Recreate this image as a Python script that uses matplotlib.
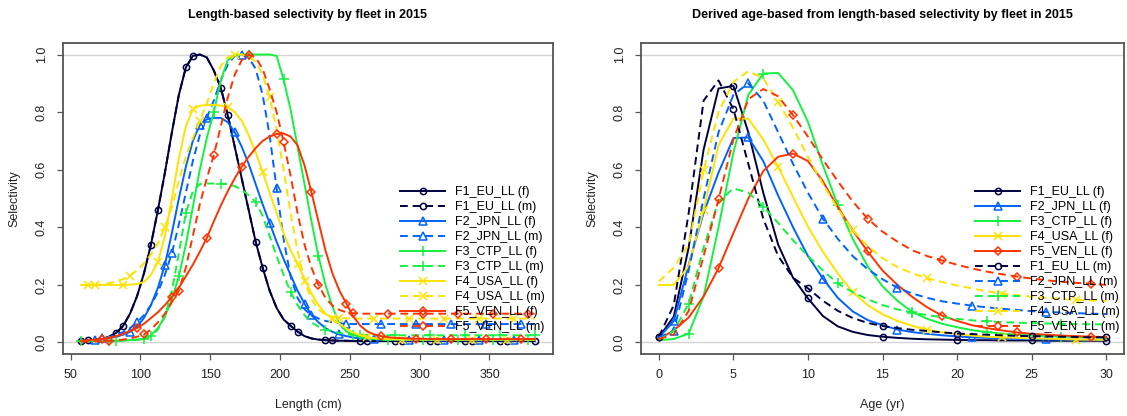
import numpy as np
import matplotlib
matplotlib.use("Agg")
import matplotlib.pyplot as plt
from matplotlib.lines import Line2D

plt.rcParams["font.family"] = ["Liberation Sans", "DejaVu Sans"]

# length bins (cm) and ages (yr)
length_cm = np.arange(57.5, 383, 5)
age_yr = np.arange(0, 31)

# ---- length-based selectivity, 2015 ----
len_F1_f = [0.005, 0.007, 0.009, 0.012, 0.02, 0.033, 0.057, 0.10, 0.16, 0.24,
            0.34, 0.46, 0.59, 0.73, 0.86, 0.955, 0.995, 1.0, 0.99, 0.945,
            0.885, 0.79, 0.68, 0.57, 0.46, 0.35, 0.26, 0.18, 0.12, 0.08,
            0.058, 0.038, 0.022, 0.014, 0.01, 0.008, 0.007, 0.006, 0.006, 0.005,
            0.005, 0.005, 0.005, 0.005, 0.005, 0.005, 0.005, 0.005, 0.005, 0.005,
            0.005, 0.005, 0.005, 0.005, 0.005, 0.005, 0.005, 0.005, 0.005, 0.005,
            0.005, 0.005, 0.005, 0.005, 0.005, 0.005]
len_F1_m = list(len_F1_f)
len_F2_f = [0.005, 0.006, 0.008, 0.011, 0.015, 0.02, 0.027, 0.037, 0.055, 0.085,
            0.13, 0.19, 0.27, 0.38, 0.5, 0.61, 0.70, 0.755, 0.775, 0.78,
            0.78, 0.765, 0.73, 0.68, 0.62, 0.55, 0.48, 0.415, 0.35, 0.29,
            0.235, 0.18, 0.135, 0.095, 0.07, 0.05, 0.037, 0.028, 0.022, 0.017,
            0.014, 0.012, 0.011, 0.01, 0.009, 0.009, 0.008, 0.008, 0.008, 0.008,
            0.008, 0.008, 0.008, 0.008, 0.008, 0.008, 0.008, 0.008, 0.008, 0.008,
            0.008, 0.008, 0.008, 0.008, 0.008, 0.008]
len_F2_m = [0.005, 0.007, 0.01, 0.014, 0.019, 0.026, 0.036, 0.05, 0.07, 0.095,
            0.13, 0.175, 0.235, 0.31, 0.41, 0.52, 0.63, 0.72, 0.78, 0.84,
            0.91, 0.965, 0.995, 1.0, 0.99, 0.95, 0.86, 0.72, 0.535, 0.36,
            0.23, 0.155, 0.115, 0.095, 0.083, 0.075, 0.07, 0.067, 0.065, 0.064,
            0.064, 0.064, 0.064, 0.064, 0.064, 0.064, 0.064, 0.064, 0.064, 0.064,
            0.064, 0.064, 0.064, 0.064, 0.064, 0.064, 0.064, 0.064, 0.064, 0.064,
            0.064, 0.064, 0.064, 0.064, 0.064, 0.064]
len_F3_f = [0.005, 0.005, 0.005, 0.005, 0.005, 0.006, 0.007, 0.008, 0.009, 0.012,
            0.025, 0.05, 0.09, 0.15, 0.23, 0.34, 0.47, 0.6, 0.71, 0.8,
            0.91, 0.98, 0.998, 1.0, 1.0, 1.0, 1.0, 1.0, 0.995, 0.914,
            0.81, 0.68, 0.55, 0.42, 0.3, 0.2, 0.125, 0.065, 0.038, 0.026,
            0.019, 0.014, 0.012, 0.011, 0.01, 0.01, 0.01, 0.01, 0.01, 0.01,
            0.01, 0.01, 0.01, 0.01, 0.01, 0.01, 0.01, 0.01, 0.01, 0.01,
            0.01, 0.01, 0.01, 0.01, 0.01, 0.01]
len_F3_m = [0.005, 0.005, 0.005, 0.005, 0.006, 0.006, 0.007, 0.008, 0.01, 0.013,
            0.022, 0.045, 0.09, 0.18, 0.31, 0.45, 0.525, 0.55, 0.552, 0.552,
            0.552, 0.55, 0.543, 0.53, 0.512, 0.488, 0.44, 0.37, 0.3, 0.235,
            0.176, 0.13, 0.095, 0.07, 0.055, 0.045, 0.038, 0.033, 0.03, 0.028,
            0.027, 0.026, 0.026, 0.025, 0.025, 0.025, 0.025, 0.025, 0.025, 0.025,
            0.025, 0.025, 0.025, 0.025, 0.025, 0.025, 0.025, 0.025, 0.025, 0.025,
            0.025, 0.025, 0.025, 0.025, 0.025, 0.025]
len_F4_f = [0.2, 0.2, 0.2, 0.2, 0.2, 0.2, 0.2, 0.201, 0.203, 0.21,
            0.235, 0.28, 0.37, 0.5, 0.64, 0.75, 0.81, 0.822, 0.825, 0.825,
            0.823, 0.818, 0.80, 0.77, 0.72, 0.66, 0.593, 0.52, 0.45, 0.38,
            0.32, 0.274, 0.22, 0.17, 0.13, 0.1, 0.083, 0.065, 0.048, 0.034,
            0.025, 0.019, 0.015, 0.013, 0.012, 0.011, 0.01, 0.01, 0.01, 0.01,
            0.01, 0.01, 0.01, 0.01, 0.01, 0.01, 0.01, 0.01, 0.01, 0.01,
            0.01, 0.01, 0.01, 0.01, 0.01, 0.01]
len_F4_m = [0.2, 0.2, 0.2, 0.202, 0.206, 0.212, 0.22, 0.232, 0.25, 0.275,
            0.305, 0.345, 0.4, 0.47, 0.56, 0.645, 0.71, 0.77, 0.83, 0.9,
            0.96, 0.99, 1.0, 1.0, 0.995, 0.975, 0.93, 0.853, 0.74, 0.6,
            0.45, 0.32, 0.213, 0.15, 0.115, 0.097, 0.089, 0.085, 0.084, 0.083,
            0.083, 0.083, 0.083, 0.083, 0.083, 0.083, 0.083, 0.083, 0.083, 0.083,
            0.083, 0.083, 0.083, 0.083, 0.083, 0.083, 0.083, 0.083, 0.083, 0.083,
            0.083, 0.083, 0.083, 0.083, 0.083, 0.083]
len_F5_f = [0.006, 0.008, 0.01, 0.012, 0.016, 0.022, 0.03, 0.04, 0.05, 0.065,
            0.085, 0.105, 0.13, 0.158, 0.19, 0.23, 0.27, 0.315, 0.363, 0.42,
            0.475, 0.525, 0.57, 0.61, 0.645, 0.675, 0.70, 0.715, 0.724, 0.726,
            0.715, 0.685, 0.615, 0.521, 0.42, 0.32, 0.24, 0.18, 0.135, 0.09,
            0.058, 0.038, 0.028, 0.022, 0.018, 0.016, 0.015, 0.014, 0.013, 0.013,
            0.012, 0.012, 0.012, 0.012, 0.012, 0.012, 0.012, 0.012, 0.012, 0.012,
            0.012, 0.012, 0.012, 0.012, 0.012, 0.012]
len_F5_m = [0.003, 0.003, 0.004, 0.004, 0.005, 0.007, 0.01, 0.014, 0.02, 0.028,
            0.045, 0.07, 0.1, 0.14, 0.18, 0.26, 0.37, 0.48, 0.57, 0.65,
            0.75, 0.85, 0.93, 0.98, 1.0, 0.99, 0.95, 0.88, 0.8, 0.697,
            0.58, 0.45, 0.34, 0.26, 0.2, 0.155, 0.128, 0.113, 0.105, 0.102,
            0.1, 0.1, 0.1, 0.1, 0.1, 0.1, 0.1, 0.1, 0.1, 0.1,
            0.1, 0.1, 0.1, 0.1, 0.1, 0.1, 0.1, 0.1, 0.1, 0.1,
            0.1, 0.1, 0.1, 0.1, 0.1, 0.1]

# ---- derived age-based selectivity, 2015 ----
age_F1_f = [0.018, 0.09, 0.33, 0.67, 0.882, 0.891, 0.73, 0.52, 0.34, 0.225, 0.153,
            0.092, 0.056, 0.037, 0.026, 0.02, 0.016, 0.013, 0.011, 0.01, 0.009,
            0.008, 0.008, 0.007, 0.007, 0.007, 0.006, 0.006, 0.006, 0.006, 0.006]
age_F2_f = [0.018, 0.074, 0.27, 0.45, 0.59, 0.71, 0.712, 0.63, 0.51, 0.40, 0.30,
            0.222, 0.155, 0.108, 0.078, 0.06, 0.045, 0.036, 0.03, 0.025, 0.021,
            0.018, 0.016, 0.014, 0.013, 0.012, 0.011, 0.01, 0.01, 0.009, 0.009]
age_F3_f = [0.008, 0.012, 0.031, 0.16, 0.4, 0.66, 0.86, 0.934, 0.936, 0.876, 0.766,
            0.615, 0.478, 0.36, 0.265, 0.195, 0.145, 0.106, 0.082, 0.065, 0.053,
            0.043, 0.036, 0.031, 0.027, 0.024, 0.022, 0.02, 0.019, 0.018, 0.017]
age_F4_f = [0.2, 0.2, 0.265, 0.46, 0.685, 0.778, 0.777, 0.705, 0.61, 0.505, 0.402,
            0.315, 0.24, 0.175, 0.13, 0.098, 0.075, 0.058, 0.044, 0.035, 0.029,
            0.024, 0.02, 0.018, 0.016, 0.014, 0.013, 0.012, 0.01, 0.01, 0.009]
age_F5_f = [0.012, 0.042, 0.087, 0.16, 0.258, 0.38, 0.5, 0.595, 0.645, 0.656, 0.63,
            0.56, 0.47, 0.39, 0.316, 0.25, 0.2, 0.158, 0.122, 0.093, 0.075,
            0.06, 0.05, 0.042, 0.035, 0.03, 0.027, 0.024, 0.022, 0.02, 0.019]
age_F1_m = [0.02, 0.13, 0.45, 0.84, 0.91, 0.81, 0.62, 0.43, 0.3, 0.225, 0.188,
            0.145, 0.11, 0.085, 0.068, 0.057, 0.05, 0.044, 0.04, 0.035, 0.031,
            0.029, 0.027, 0.025, 0.023, 0.022, 0.021, 0.02, 0.019, 0.018, 0.018]
age_F2_m = [0.018, 0.04, 0.25, 0.5, 0.73, 0.86, 0.9, 0.84, 0.73, 0.62, 0.52,
            0.43, 0.36, 0.3, 0.255, 0.22, 0.19, 0.17, 0.155, 0.143, 0.135,
            0.128, 0.122, 0.117, 0.113, 0.109, 0.106, 0.104, 0.102, 0.1, 0.099]
age_F3_m = [0.01, 0.04, 0.135, 0.33, 0.49, 0.535, 0.52, 0.472, 0.415, 0.355, 0.3,
            0.25, 0.205, 0.175, 0.15, 0.13, 0.115, 0.104, 0.095, 0.088, 0.082,
            0.077, 0.073, 0.071, 0.069, 0.067, 0.066, 0.065, 0.064, 0.063, 0.063]
age_F4_m = [0.212, 0.26, 0.34, 0.598, 0.8, 0.905, 0.942, 0.918, 0.836, 0.745, 0.645,
            0.55, 0.465, 0.39, 0.335, 0.293, 0.262, 0.24, 0.223, 0.21, 0.198,
            0.188, 0.178, 0.17, 0.164, 0.159, 0.155, 0.151, 0.148, 0.146, 0.144]
age_F5_m = [0.012, 0.028, 0.11, 0.3, 0.497, 0.705, 0.845, 0.88, 0.855, 0.789, 0.715,
            0.635, 0.56, 0.49, 0.43, 0.385, 0.35, 0.32, 0.3, 0.285, 0.27,
            0.257, 0.246, 0.237, 0.229, 0.222, 0.216, 0.211, 0.207, 0.204, 0.2]

fleets = ["F1_EU_LL", "F2_JPN_LL", "F3_CTP_LL", "F4_USA_LL", "F5_VEN_LL"]
colors = ["#000040", "#0063FF", "#13F240", "#FEE201", "#FF3300"]
markers = ["o", "^", "+", "x", "D"]
msizes = [4.5, 5.5, 7, 6, 4.5]

len_sel = {"f": [len_F1_f, len_F2_f, len_F3_f, len_F4_f, len_F5_f],
           "m": [len_F1_m, len_F2_m, len_F3_m, len_F4_m, len_F5_m]}
age_sel = {"f": [age_F1_f, age_F2_f, age_F3_f, age_F4_f, age_F5_f],
           "m": [age_F1_m, age_F2_m, age_F3_m, age_F4_m, age_F5_m]}

DASH = (4, 2.5)
LW = 1.4
FS = 9


def line_style(k, sex):
    kw = dict(color=colors[k], lw=LW, marker=markers[k], ms=msizes[k],
              mfc="none", mec=colors[k], mew=1.1)
    if sex == "m":
        kw["ls"] = (0, DASH)
    return kw


def style_axes(ax, xlim, xticks, xlabel, title):
    ax.axhline(0, color="#d4d4d4", lw=1, zorder=0)
    ax.axhline(1, color="#d4d4d4", lw=1, zorder=0)
    ax.set_xlim(*xlim)
    ax.set_ylim(-0.04, 1.04)
    ax.set_xticks(xticks)
    ax.set_yticks([0, 0.2, 0.4, 0.6, 0.8, 1.0])
    ax.set_yticklabels(["0.0", "0.2", "0.4", "0.6", "0.8", "1.0"])
    for lab in ax.get_yticklabels():
        lab.set_rotation(90)
        lab.set_va("center")
    ax.tick_params(length=4, width=0.9, color="#555555", labelsize=FS,
                   pad=7, labelcolor="#222222")
    for s in ax.spines.values():
        s.set_color("#555555")
        s.set_linewidth(1.3)
    ax.set_xlabel(xlabel, fontsize=FS, labelpad=13, color="#222222")
    ax.set_ylabel("Selectivity", fontsize=FS, labelpad=11, color="#222222")
    ax.set_title(title, fontsize=FS, fontweight="bold", pad=18)


def add_legend(ax, order, x0):
    handles, labels = [], []
    for k, sex in order:
        kw = line_style(k, sex)
        handles.append(Line2D([], [], **kw))
        labels.append(f"{fleets[k]} ({sex})")
    ax.legend(handles, labels, loc="upper left", bbox_to_anchor=(x0, 0.54),
              frameon=False, fontsize=FS, handlelength=3.6, handletextpad=0.8,
              labelspacing=0.24, borderaxespad=0, borderpad=0, numpoints=1)


fig = plt.figure(figsize=(11.27, 4.16), dpi=100)
ax1 = fig.add_axes([63 / 1127, 62 / 416, 490 / 1127, 311 / 416])
ax2 = fig.add_axes([641 / 1127, 62 / 416, 483 / 1127, 311 / 416])

# left panel: f and m interleaved per fleet
order_len = [(k, s) for k in range(5) for s in ("f", "m")]
for i, (k, sex) in enumerate(order_len):
    ax1.plot(length_cm, len_sel[sex][k], markevery=(i % 5, 5),
             **line_style(k, sex))
style_axes(ax1, (44.5, 395.5), range(50, 351, 50), "Length (cm)",
           "Length-based selectivity by fleet in 2015")
add_legend(ax1, order_len, 0.688)

# right panel: all f first, then all m
order_age = [(k, "f") for k in range(5)] + [(k, "m") for k in range(5)]
for i, (k, sex) in enumerate(order_age):
    ax2.plot(age_yr, age_sel[sex][k], markevery=(i % 5, 5),
             **line_style(k, sex))
style_axes(ax2, (-1.2, 31.2), range(0, 31, 5), "Age (yr)",
           "Derived age-based from length-based selectivity by fleet in 2015")
add_legend(ax2, order_age, 0.692)

fig.savefig("out.png", dpi=100)
